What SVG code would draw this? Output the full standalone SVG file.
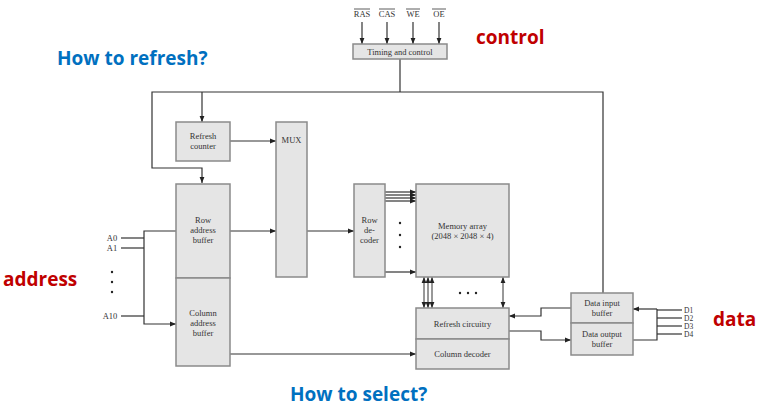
<svg xmlns="http://www.w3.org/2000/svg" width="762" height="413" viewBox="0 0 762 413">
<defs>
<marker id="ah" viewBox="0 0 10 10" refX="10" refY="5" markerWidth="6" markerHeight="6" orient="auto-start-reverse" markerUnits="userSpaceOnUse">
<path d="M0,1 L10,5 L0,9 z" fill="#222"/>
</marker>
</defs>
<style>
.box{fill:#e5e5e5;stroke:#8a8a8a;stroke-width:1.5}
.t{font-family:"Liberation Serif",serif;font-size:8.5px;fill:#333;text-anchor:middle}
.d{font-family:"Liberation Serif",serif;font-size:7.5px;fill:#333;text-anchor:start}
.c{fill:none;stroke:#333;stroke-width:1.2}
.a{marker-end:url(#ah)}
.b{marker-end:url(#ah);marker-start:url(#ah)}
.blue{font-family:"Open Sans",sans-serif;font-weight:bold;font-size:19px;fill:#0070C0}
.red{font-family:"Open Sans",sans-serif;font-weight:bold;font-size:19px;fill:#C00000}
.dot{fill:#222}
</style>
<rect width="762" height="413" fill="#fff"/>

<g id="labels">
<text class="blue" x="57" y="65">How to refresh?</text>
<text class="red" x="476" y="44">control</text>
<text class="red" x="3" y="286">address</text>
<text class="red" x="713" y="326">data</text>
<text class="blue" x="290" y="401">How to select?</text>
</g>

<g id="signals">
<text class="t" x="362" y="17">RAS</text>
<text class="t" x="387" y="17">CAS</text>
<text class="t" x="413" y="17">WE</text>
<text class="t" x="439" y="17">OE</text>
<line x1="354" y1="9" x2="370" y2="9" stroke="#333" stroke-width="0.8"/>
<line x1="379" y1="9" x2="395" y2="9" stroke="#333" stroke-width="0.8"/>
<line x1="406" y1="9" x2="420" y2="9" stroke="#333" stroke-width="0.8"/>
<line x1="432" y1="9" x2="446" y2="9" stroke="#333" stroke-width="0.8"/>
<text class="t" x="112" y="241">A0</text>
<text class="t" x="112" y="251">A1</text>
<text class="t" x="110" y="319">A10</text>
<circle class="dot" cx="112" cy="272" r="1.2"/>
<circle class="dot" cx="112" cy="282" r="1.2"/>
<circle class="dot" cx="112" cy="292" r="1.2"/>
<text class="d" x="684" y="312.5">D1</text>
<text class="d" x="684" y="320.5">D2</text>
<text class="d" x="684" y="328.5">D3</text>
<text class="d" x="684" y="336.5">D4</text>
<circle class="dot" cx="400" cy="223" r="1.2"/>
<circle class="dot" cx="400" cy="235" r="1.2"/>
<circle class="dot" cx="400" cy="247" r="1.2"/>
<circle class="dot" cx="460" cy="293" r="1.2"/>
<circle class="dot" cx="468" cy="293" r="1.2"/>
<circle class="dot" cx="476" cy="293" r="1.2"/>
</g>

<g id="connectors">
<line class="c a" x1="362" y1="22" x2="362" y2="44"/>
<line class="c a" x1="387" y1="22" x2="387" y2="44"/>
<line class="c a" x1="413" y1="22" x2="413" y2="44"/>
<line class="c a" x1="439" y1="22" x2="439" y2="44"/>
<line class="c" x1="400" y1="59" x2="400" y2="92"/>
<polyline class="c a" points="603,293 603,92 152,92 152,168 202,168 202,183"/>
<line class="c a" x1="202" y1="92" x2="202" y2="122"/>
<line class="c a" x1="230" y1="141" x2="276" y2="141"/>
<line class="c a" x1="230" y1="231" x2="276" y2="231"/>
<line class="c a" x1="307" y1="231" x2="354" y2="231"/>
<line class="c" x1="121" y1="238" x2="144" y2="238"/>
<line class="c" x1="121" y1="248" x2="144" y2="248"/>
<line class="c" x1="121" y1="316" x2="144" y2="316"/>
<polyline class="c a" points="176,231 144,231 144,324 176,324"/>
<line class="c a" x1="385" y1="192" x2="416" y2="192"/>
<line class="c a" x1="385" y1="195" x2="416" y2="195"/>
<line class="c a" x1="385" y1="198" x2="416" y2="198"/>
<line class="c a" x1="385" y1="201" x2="416" y2="201"/>
<line class="c a" x1="385" y1="272" x2="416" y2="272"/>
<line class="c b" x1="424" y1="277" x2="424" y2="308" style="stroke-width:1"/>
<line class="c b" x1="428" y1="277" x2="428" y2="308" style="stroke-width:1"/>
<line class="c b" x1="432" y1="277" x2="432" y2="308" style="stroke-width:1"/>
<line class="c b" x1="503" y1="277" x2="503" y2="308" style="stroke-width:1"/>
<line class="c a" x1="229" y1="354" x2="416" y2="354"/>
<polyline class="c a" points="571,308 541,308 541,316 509,316"/>
<polyline class="c a" points="509,331 541,331 541,340 571,340"/>
<polyline class="c a" points="657,309 633,309"/>
<polyline class="c" points="633,340 657,340 657,309"/>
<line class="c" x1="657" y1="310" x2="682" y2="310"/>
<line class="c" x1="657" y1="318" x2="682" y2="318"/>
<line class="c" x1="657" y1="326" x2="682" y2="326"/>
<line class="c" x1="657" y1="334" x2="682" y2="334"/>
</g>

<g id="timing">
<rect class="box" x="353" y="44" width="94" height="15"/>
<text class="t" x="400" y="54.5">Timing and control</text>
</g>
<g id="refresh-counter">
<rect class="box" x="176" y="122" width="54" height="39"/>
<text class="t" x="203" y="139">Refresh</text>
<text class="t" x="203" y="149">counter</text>
</g>
<g id="mux">
<rect class="box" x="276" y="122" width="31" height="155"/>
<text class="t" x="291.5" y="143">MUX</text>
</g>
<g id="row-address-buffer">
<rect class="box" x="176" y="184" width="54" height="94"/>
<text class="t" x="203" y="223">Row</text>
<text class="t" x="203" y="233">address</text>
<text class="t" x="203" y="243">buffer</text>
</g>
<g id="column-address-buffer">
<rect class="box" x="176" y="278" width="54" height="88"/>
<text class="t" x="203" y="316">Column</text>
<text class="t" x="203" y="326">address</text>
<text class="t" x="203" y="336">buffer</text>
</g>
<g id="row-decoder">
<rect class="box" x="354" y="184" width="31" height="93"/>
<text class="t" x="369.5" y="223">Row</text>
<text class="t" x="369.5" y="233">de-</text>
<text class="t" x="369.5" y="243">coder</text>
</g>
<g id="memory-array">
<rect class="box" x="416" y="184" width="93" height="93"/>
<text class="t" x="462.5" y="229">Memory array</text>
<text class="t" x="462.5" y="239">(2048 × 2048 × 4)</text>
</g>
<g id="refresh-circuitry">
<rect class="box" x="416" y="308" width="93" height="31"/>
<text class="t" x="462.5" y="327">Refresh circuitry</text>
</g>
<g id="column-decoder">
<rect class="box" x="416" y="339" width="93" height="30"/>
<text class="t" x="462.5" y="357">Column decoder</text>
</g>
<g id="data-input-buffer">
<rect class="box" x="571" y="293" width="62" height="30"/>
<text class="t" x="602" y="306">Data input</text>
<text class="t" x="602" y="316">buffer</text>
</g>
<g id="data-output-buffer">
<rect class="box" x="571" y="323" width="62" height="32"/>
<text class="t" x="602" y="337">Data output</text>
<text class="t" x="602" y="347">buffer</text>
</g>
</svg>
